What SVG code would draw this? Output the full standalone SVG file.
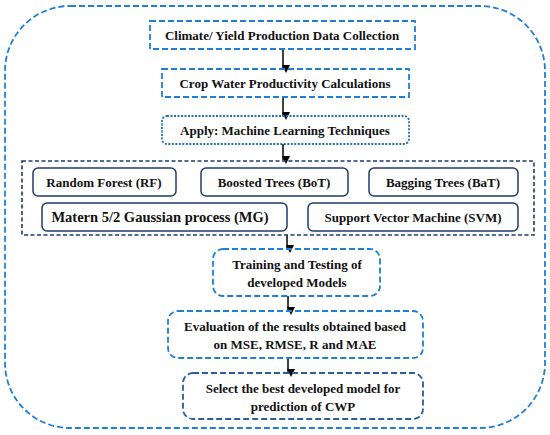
<svg xmlns="http://www.w3.org/2000/svg" width="550" height="435" viewBox="0 0 550 435">
<style>
.t{font-family:'Liberation Serif','Tinos','Times New Roman',Times,'DejaVu Serif',serif;font-weight:bold;font-size:13px;fill:#111;text-anchor:middle}
.blue{fill:none;stroke:#1f7fd6;stroke-width:1.8;stroke-dasharray:6 3}
.dot{fill:none;stroke:#1f6fc0;stroke-width:1.8;stroke-dasharray:2 1.5}
.navyd{fill:none;stroke:#1f3a70;stroke-width:1.6;stroke-dasharray:4 2.5}
.navy{fill:#fff;stroke:#203a70;stroke-width:1.5}
.sel{fill:none;stroke:#2a5d9a;stroke-width:1.8;stroke-dasharray:6 3}
.arr{stroke:#000;stroke-width:1.5;fill:none;marker-end:url(#ah)}
</style>
<defs>
<marker id="ah" markerWidth="8" markerHeight="8" refX="4" refY="7" orient="auto" markerUnits="userSpaceOnUse" viewBox="0 0 8 8">
<path d="M0,0 L8,0 L4,8 Z" fill="#000" transform="rotate(-90 4 4)"/>
</marker>
</defs>
<rect width="550" height="435" fill="#fff"/>
<g id="outer"><rect class="blue" x="5" y="6" width="540" height="422" rx="65" ry="65"/></g>
<g id="connectors">
<line class="arr" x1="283" y1="49" x2="283" y2="69"/>
<line class="arr" x1="283" y1="97" x2="283" y2="116"/>
<line class="arr" x1="283" y1="144" x2="283" y2="160"/>
<line class="arr" x1="287" y1="235" x2="287" y2="249"/>
<line class="arr" x1="288" y1="296" x2="288" y2="311"/>
<line class="arr" x1="288" y1="358" x2="288" y2="373"/>
</g>
<g class="t" font-family="Liberation Serif, serif">
<g id="n1"><rect class="blue" x="150" y="21" width="265" height="28"/><text x="282" y="40">Climate/ Yield Production Data Collection</text></g>
<g id="n2"><rect class="blue" x="162" y="69" width="247" height="28"/><text x="285" y="88">Crop Water Productivity Calculations</text></g>
<g id="n3"><rect class="dot" x="162" y="116" width="247" height="28" rx="5"/><text x="285" y="135">Apply: Machine Learning Techniques</text></g>
<g id="group"><rect class="navyd" x="22" y="161" width="512" height="74"/></g>
<g id="rf"><rect class="navy" x="33" y="168" width="143" height="28" rx="5"/><text x="104" y="187">Random Forest (RF)</text></g>
<g id="bot"><rect class="navy" x="201" y="168" width="147" height="28" rx="5"/><text x="274" y="187">Boosted Trees (BoT)</text></g>
<g id="bat"><rect class="navy" x="369" y="168" width="149" height="28" rx="5"/><text x="443" y="187">Bagging Trees (BaT)</text></g>
<g id="mg"><rect class="navy" x="42" y="203" width="245" height="28" rx="5"/><text x="160" y="222" style="font-size:14.5px">Matern 5/2 Gaussian process (MG)</text></g>
<g id="svm"><rect class="navy" x="308" y="203" width="210" height="28" rx="5"/><text x="413" y="222">Support Vector Machine (SVM)</text></g>
<g id="train"><rect class="blue" x="213" y="249" width="167" height="47" rx="10"/><text x="297" y="269">Training and Testing of</text><text x="297" y="287">developed Models</text></g>
<g id="eval"><rect class="blue" x="168" y="311" width="255" height="47" rx="10"/><text x="295" y="331">Evaluation of the results obtained based</text><text x="295" y="349">on MSE, RMSE, R and MAE</text></g>
<g id="sel"><rect class="sel" x="183" y="373" width="240" height="46" rx="10"/><text x="303" y="393">Select the best developed model for</text><text x="303" y="411">prediction of CWP</text></g>
</g>
</svg>
